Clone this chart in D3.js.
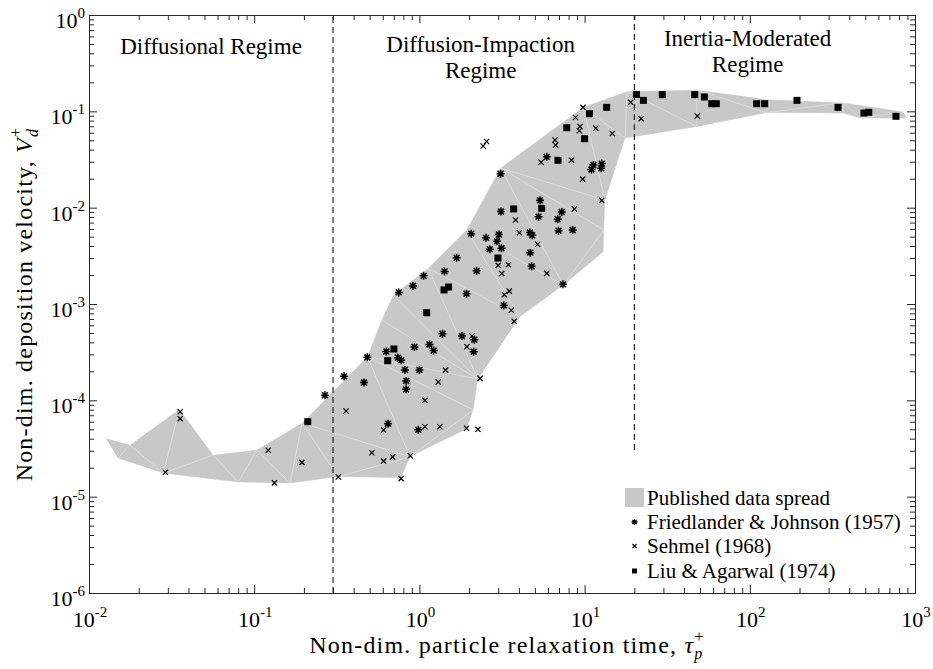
<!DOCTYPE html>
<html>
<head>
<meta charset="utf-8">
<script src="https://cdn.jsdelivr.net/npm/d3@7"></script>
<style>
  body { margin: 0; background: #fff; }
  svg text { font-family: "Liberation Serif", Tinos, "Times New Roman", Times, "DejaVu Serif", serif; fill: #000; }
</style>
</head>
<body>
<div id="chart"></div>
<script>
// data (tau_p+ , Vd+)
var spreadTau = [0.0126, 0.0177, 0.0352, 0.0565, 0.1035, 0.195, 0.484, 0.591, 0.695, 1.13, 1.93, 3.10, 9.82, 18.1, 47.7, 126, 368, 849, 891, 465, 368, 126, 47.7, 17.6, 13.3, 13.1, 13.0, 7.43, 4.06, 2.26, 2.12, 1.93, 0.877, 0.775, 0.323, 0.165, 0.0802, 0.0282, 0.0150];
var spreadVd = [4.03e-5, 3.44e-5, 8.07e-5, 2.71e-5, 3.05e-5, 5.82e-5, 2.84e-4, 6.82e-4, 1.24e-3, 2.35e-3, 5.86e-3, 0.0258, 0.110, 0.161, 0.167, 0.133, 0.123, 0.0991, 0.0847, 0.0847, 0.0954, 0.0968, 0.0693, 0.0525, 0.0120, 5.86e-3, 3.49e-3, 1.57e-3, 7.38e-4, 1.66e-4, 7.94e-5, 5.04e-5, 2.60e-5, 1.57e-5, 1.61e-5, 1.38e-5, 1.41e-5, 1.75e-5, 2.50e-5];

var fjTau = [0.268, 0.350, 0.462, 0.484, 0.631, 0.646, 0.741, 0.776, 0.817, 0.832, 0.830, 0.933, 0.984, 1.00, 1.15, 1.22, 1.38, 0.750, 0.914, 1.06, 1.42, 1.68, 1.93, 2.22, 3.24, 2.06, 2.53, 3.03, 2.95, 3.14, 2.67, 4.67, 4.82, 6.95, 8.47, 4.69, 4.78, 7.40, 3.12, 5.26, 7.27, 6.88, 5.37, 3.10, 5.90, 11.3, 11.0, 12.7, 12.6, 1.81, 2.15, 2.13];
var fjVd = [1.13e-4, 1.78e-4, 1.53e-4, 2.80e-4, 3.21e-4, 5.72e-5, 2.77e-4, 2.61e-4, 2.07e-4, 1.59e-4, 1.30e-4, 3.58e-4, 4.94e-5, 2.07e-4, 3.80e-4, 3.29e-4, 4.91e-4, 1.32e-3, 1.54e-3, 1.96e-3, 2.18e-3, 3.02e-3, 1.28e-3, 2.21e-3, 9.65e-4, 5.37e-3, 4.86e-3, 5.26e-3, 4.48e-3, 3.79e-3, 3.71e-3, 5.52e-3, 5.16e-3, 5.77e-3, 5.86e-3, 3.41e-3, 2.46e-3, 1.60e-3, 9.12e-3, 8.06e-3, 9.02e-3, 7.59e-3, 0.01195, 0.0225, 0.0337, 0.0277, 0.0249, 0.0287, 0.0256, 4.65e-4, 4.26e-4, 3.20e-4];

var sehTau = [0.0290, 0.0356, 0.0356, 0.1216, 0.1325, 0.1945, 0.323, 0.360, 0.516, 0.607, 0.689, 0.881, 0.775, 0.607, 1.08, 1.33, 1.93, 2.26, 1.08, 1.30, 1.44, 2.33, 1.94, 2.08, 3.00, 3.46, 3.15, 3.27, 3.50, 3.60, 3.75, 5.90, 5.20, 4.03, 3.82, 8.67, 12.7, 9.73, 5.45, 8.33, 6.62, 6.68, 14.7, 11.7, 9.38, 9.29, 8.81, 9.78, 2.43, 2.55, 19.0, 22.0, 48.1];
var sehVd = [1.79e-5, 7.62e-5, 6.45e-5, 3.03e-5, 1.39e-5, 2.27e-5, 1.60e-5, 7.75e-5, 2.86e-5, 2.34e-5, 2.59e-5, 2.66e-5, 1.54e-5, 4.92e-5, 5.32e-5, 5.32e-5, 5.13e-5, 5.00e-5, 1.00e-4, 1.55e-4, 2.06e-4, 1.69e-4, 3.60e-4, 4.65e-4, 2.52e-3, 2.56e-3, 2.07e-3, 1.25e-3, 1.36e-3, 8.62e-4, 6.61e-4, 2.08e-3, 4.17e-3, 5.50e-3, 7.45e-3, 9.69e-3, 0.0119, 0.0198, 0.0296, 0.0311, 0.0504, 0.0447, 0.0589, 0.0668, 0.0696, 0.0628, 0.0863, 0.110, 0.0437, 0.0486, 0.124, 0.0839, 0.0894];

var liuTau = [0.211, 0.643, 0.701, 1.107, 1.41, 1.50, 2.99, 3.72, 5.50, 6.90, 10.0, 7.80, 10.7, 13.6, 20.6, 22.7, 29.5, 46.4, 53.1, 58.8, 62.7, 110, 123, 193, 342, 491, 525, 767];
var liuVd = [6.0e-5, 2.58e-4, 3.41e-4, 8.12e-4, 1.40e-3, 1.50e-3, 3.0e-3, 9.7e-3, 9.85e-3, 0.031, 0.052, 0.0676, 0.0944, 0.110, 0.150, 0.130, 0.149, 0.149, 0.141, 0.120, 0.120, 0.120, 0.120, 0.130, 0.110, 0.096, 0.0977, 0.0888];

var regimeBounds = [0.3, 20];
var regimeEnds = [1e-6, 3.05e-5];
var xExponents = [-2, -1, 0, 1, 2, 3];
var yExponents = [-6, -5, -4, -3, -2, -1, 0];
var legendLabels = ["Published data spread", "Friedlander & Johnson (1957)", "Sehmel (1968)", "Liu & Agarwal (1974)"];

// size and margins
var W = 933, H = 669;
var margin = {top: 15, right: 18, bottom: 76, left: 89},
    width = W - margin.left - margin.right,
    height = H - margin.top - margin.bottom;
var axisColor = "#262626";
var serif = "'Liberation Serif', Tinos, 'Times New Roman', Times, 'DejaVu Serif', serif";

var root = d3.select("#chart")
  .append("svg")
    .attr("width", W)
    .attr("height", H)
    .attr("font-family", serif);
var svg = root.append("g")
    .attr("transform", "translate(" + margin.left + "," + margin.top + ")");

var x = d3.scaleLog().domain([1e-2, 1e3]).range([0, width]);
var y = d3.scaleLog().domain([1e-6, 1]).range([height, 0]);

function zip(a, b) { return a.map(function(v, i) { return [v, b[i]]; }); }

// gray spread polygon
var spread = zip(spreadTau, spreadVd);
var spreadPx = spread.map(function(d) { return [x(d[0]), y(d[1])]; });

svg.append("clipPath").attr("id", "spreadClip")
  .append("path").attr("d", "M" + spreadPx.join("L") + "Z");

svg.append("path")
  .attr("d", "M" + spreadPx.join("L") + "Z")
  .attr("fill", "#c8c8c8");

// faint triangulation lines inside the spread
var delaunay = d3.Delaunay.from(spreadPx);
var tri = delaunay.triangles, triPath = "";
for (var i = 0; i < tri.length; i += 3) {
  var a = spreadPx[tri[i]], b = spreadPx[tri[i + 1]], c = spreadPx[tri[i + 2]];
  var cx = (a[0] + b[0] + c[0]) / 3, cy = (a[1] + b[1] + c[1]) / 3;
  if (d3.polygonContains(spreadPx, [cx, cy])) {
    triPath += "M" + a + "L" + b + "L" + c + "Z";
  }
}
svg.append("path")
  .attr("d", triPath)
  .attr("clip-path", "url(#spreadClip)")
  .attr("fill", "none")
  .attr("stroke", "#dcdcdc")
  .attr("stroke-width", 0.6);

// regime boundaries
svg.selectAll("regLine")
  .data(regimeBounds)
  .enter()
  .append("line")
    .attr("x1", function(d) { return x(d); })
    .attr("x2", function(d) { return x(d); })
    .attr("y1", function(d, i) { return y(regimeEnds[i]); })
    .attr("y2", y(1))
    .attr("stroke", "#000")
    .attr("stroke-width", 1)
    .attr("stroke-dasharray", "6,4");

// markers
var starPath = "M-4,0L4,0M0,-4L0,4M-2.9,-2.9L2.9,2.9M-2.9,2.9L2.9,-2.9";
var crossPath = "M-2.6,-2.6L2.6,2.6M-2.6,2.6L2.6,-2.6";

svg.selectAll("fj")
  .data(zip(fjTau, fjVd))
  .enter()
  .append("path")
    .attr("transform", function(d) { return "translate(" + x(d[0]) + "," + y(d[1]) + ")"; })
    .attr("d", starPath)
    .attr("stroke", "#000")
    .attr("stroke-width", 1.5);

svg.selectAll("seh")
  .data(zip(sehTau, sehVd))
  .enter()
  .append("path")
    .attr("transform", function(d) { return "translate(" + x(d[0]) + "," + y(d[1]) + ")"; })
    .attr("d", crossPath)
    .attr("stroke", "#000")
    .attr("stroke-width", 1.2);

svg.selectAll("liu")
  .data(zip(liuTau, liuVd))
  .enter()
  .append("rect")
    .attr("x", function(d) { return x(d[0]) - 3.5; })
    .attr("y", function(d) { return y(d[1]) - 3.5; })
    .attr("width", 7)
    .attr("height", 7)
    .attr("fill", "#000");

// axes (ticks inward, box all round)
var majX = xExponents.map(function(e) { return Math.pow(10, e); });
var majY = yExponents.map(function(e) { return Math.pow(10, e); });
function minors(lo, hi) {
  var out = [];
  for (var e = lo; e < hi; e++) for (var m = 2; m <= 9; m++) out.push(m * Math.pow(10, e));
  return out;
}
var minX = minors(-2, 3), minY = minors(-6, 0);

function drawAxis(axisFn, scale, vals, size, transform) {
  var g = svg.append("g")
    .attr("transform", transform)
    .call(axisFn(scale).tickValues(vals).tickSizeInner(-size).tickSizeOuter(0).tickFormat(""));
  g.selectAll("path, line").attr("stroke", axisColor).attr("stroke-width", 1);
  return g;
}
drawAxis(d3.axisBottom, x, majX, 8, "translate(0," + height + ")");
drawAxis(d3.axisBottom, x, minX, 5, "translate(0," + height + ")");
drawAxis(d3.axisTop, x, majX, 8, "translate(0,0)");
drawAxis(d3.axisTop, x, minX, 5, "translate(0,0)");
drawAxis(d3.axisLeft, y, majY, 8, "translate(0,0)");
drawAxis(d3.axisLeft, y, minY, 5, "translate(0,0)");
drawAxis(d3.axisRight, y, majY, 8, "translate(" + width + ",0)");
drawAxis(d3.axisRight, y, minY, 5, "translate(" + width + ",0)");

// tick labels 10^n
function powLabel(sel, e) {
  sel.append("tspan").text("10");
  sel.append("tspan").attr("dy", -10).attr("font-size", 15).text(String(e));
}
xExponents.forEach(function(e) {
  var t = svg.append("text")
    .attr("x", x(Math.pow(10, e)) + 1)
    .attr("y", height + 34)
    .attr("text-anchor", "middle")
    .attr("font-size", 22);
  powLabel(t, e);
});
yExponents.forEach(function(e) {
  var t = svg.append("text")
    .attr("x", -4)
    .attr("y", y(Math.pow(10, e)) + 13)
    .attr("text-anchor", "end")
    .attr("font-size", 22);
  powLabel(t, e);
});

// axis titles
var xt = svg.append("text")
  .attr("x", width / 2 + 5)
  .attr("y", height + 60)
  .attr("text-anchor", "middle")
  .attr("font-size", 24)
  .attr("letter-spacing", 1.2);
xt.append("tspan").text("Non-dim. particle relaxation time, ");
xt.append("tspan").attr("font-style", "italic").text("τ");
xt.append("tspan").attr("font-style", "italic").attr("font-size", 16).attr("dy", 6).text("p");
xt.append("tspan").attr("font-size", 16).attr("dx", -9).attr("dy", -17).text("+");

var yt = svg.append("text")
  .attr("transform", "translate(" + (-57) + "," + (height / 2) + ")rotate(-90)")
  .attr("text-anchor", "middle")
  .attr("font-size", 24)
  .attr("letter-spacing", 1.2);
yt.append("tspan").text("Non-dim. deposition velocity, ");
yt.append("tspan").attr("font-style", "italic").text("V");
yt.append("tspan").attr("font-style", "italic").attr("font-size", 16).attr("dy", 6).text("d");
yt.append("tspan").attr("font-size", 16).attr("dx", -9).attr("dy", -17).text("+");

// regime labels
var regimes = [
  {lines: ["Diffusional Regime"], tau: 0.0548, y0: 39},
  {lines: ["Diffusion-Impaction", "Regime"], tau: 2.35, y0: 37},
  {lines: ["Inertia-Moderated", "Regime"], tau: 97, y0: 31}
];
regimes.forEach(function(r) {
  r.lines.forEach(function(s, i) {
    svg.append("text")
      .attr("x", x(r.tau))
      .attr("y", r.y0 + i * 26)
      .attr("text-anchor", "middle")
      .attr("font-size", 23)
      .text(s);
  });
});

// legend
var lg = svg.append("g").attr("transform", "translate(" + (625 - margin.left) + "," + (488 - margin.top) + ")");
lg.append("rect").attr("x", 0).attr("y", 0).attr("width", 19).attr("height", 19).attr("fill", "#c8c8c8");
lg.append("path").attr("transform", "translate(9.5,34)").attr("d", "M-3,0L3,0M0,-3L0,3M-2.1,-2.1L2.1,2.1M-2.1,2.1L2.1,-2.1").attr("stroke", "#000").attr("stroke-width", 1.3);
lg.append("path").attr("transform", "translate(9.5,58)").attr("d", "M-2,-2L2,2M-2,2L2,-2").attr("stroke", "#000").attr("stroke-width", 1.1);
lg.append("rect").attr("x", 7).attr("y", 80.5).attr("width", 5).attr("height", 5).attr("fill", "#000");
legendLabels.forEach(function(s, i) {
  lg.append("text")
    .attr("x", 22)
    .attr("y", 17 + i * 24.2)
    .attr("font-size", 21)
    .text(s);
});
</script>
</body>
</html>
